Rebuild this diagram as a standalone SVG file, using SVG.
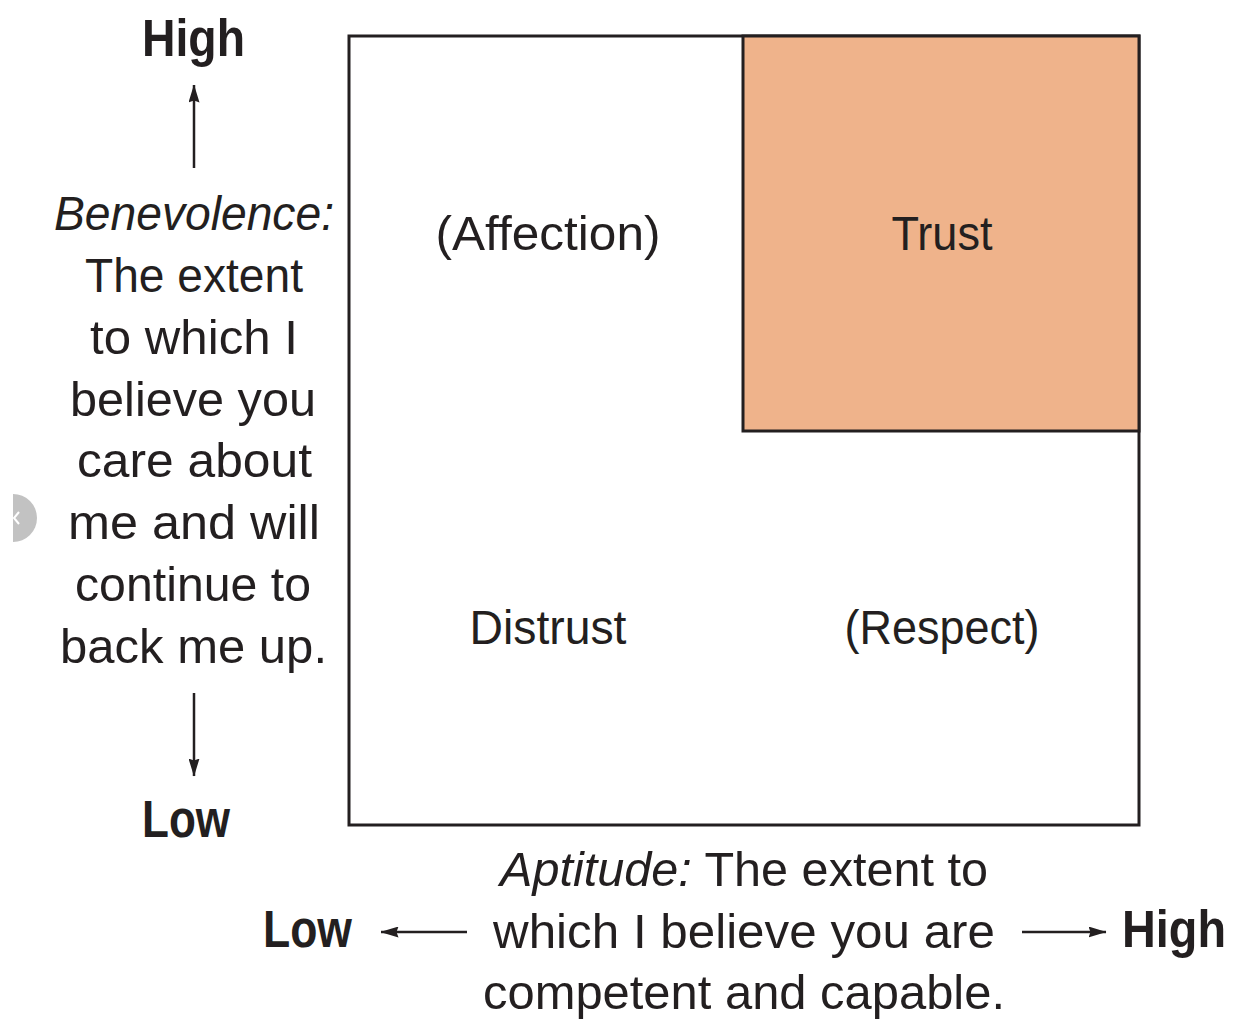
<svg xmlns="http://www.w3.org/2000/svg" width="1234" height="1023" viewBox="0 0 1234 1023">
<style>
text{font-family:"Liberation Sans",Arial,sans-serif;fill:#231f20;}
.t{font-size:49px;}
.b{font-size:51px;font-weight:bold;}
.i{font-style:italic;}
.m{text-anchor:middle;}
.ln{stroke:#231f20;stroke-width:2.5;fill:none;}
</style>
<defs>
<marker id="ah" viewBox="0 0 18 11" refX="17.5" refY="5.5" markerWidth="18" markerHeight="11" markerUnits="userSpaceOnUse" orient="auto">
<path d="M0,0 L18,5.5 L0,11 L2,5.5 Z" fill="#231f20"/>
</marker>
</defs>
<rect width="1234" height="1023" fill="#fff"/>
<g id="badge">
<path d="M13,494 A24,24 0 0 1 13,542 Z" fill="#c2c2c2"/>
<polyline points="19,512 14,518 19,524" fill="none" stroke="#fff" stroke-width="2"/>
</g>
<g id="matrix">
<rect x="349" y="36" width="790" height="789" fill="#fff" stroke="#231f20" stroke-width="3"/>
</g>
<g id="trust">
<rect x="743" y="36" width="396" height="395" fill="#efb38b" stroke="#231f20" stroke-width="3"/>
<text class="t m" x="942" y="250" textLength="101" lengthAdjust="spacingAndGlyphs">Trust</text>
</g>
<g id="affection"><text class="t m" x="548" y="250" textLength="225" lengthAdjust="spacingAndGlyphs">(Affection)</text></g>
<g id="distrust"><text class="t m" x="548" y="644" textLength="157" lengthAdjust="spacingAndGlyphs">Distrust</text></g>
<g id="respect"><text class="t m" x="942" y="644" textLength="195" lengthAdjust="spacingAndGlyphs">(Respect)</text></g>
<g id="y-axis">
<text class="b m" x="193.5" y="56" textLength="103" lengthAdjust="spacingAndGlyphs">High</text>
<text class="t m i" x="194" y="230" textLength="280" lengthAdjust="spacingAndGlyphs">Benevolence:</text>
<text class="t m" x="194" y="292" textLength="218" lengthAdjust="spacingAndGlyphs">The extent</text>
<text class="t m" x="194" y="354" textLength="208" lengthAdjust="spacingAndGlyphs">to which I</text>
<text class="t m" x="193" y="416" textLength="246" lengthAdjust="spacingAndGlyphs">believe you</text>
<text class="t m" x="194.5" y="477" textLength="235" lengthAdjust="spacingAndGlyphs">care about</text>
<text class="t m" x="194" y="539" textLength="252" lengthAdjust="spacingAndGlyphs">me and will</text>
<text class="t m" x="193" y="601" textLength="236" lengthAdjust="spacingAndGlyphs">continue to</text>
<text class="t m" x="193.5" y="663" textLength="267" lengthAdjust="spacingAndGlyphs">back me up.</text>
<text class="b m" x="186" y="837" textLength="88" lengthAdjust="spacingAndGlyphs">Low</text>
</g>
<g id="x-axis">
<text class="t m" x="744" y="886" textLength="488" lengthAdjust="spacingAndGlyphs"><tspan class="i">Aptitude:</tspan> The extent to</text>
<text class="t m" x="744" y="948" textLength="502" lengthAdjust="spacingAndGlyphs">which I believe you are</text>
<text class="t m" x="744" y="1009" textLength="522" lengthAdjust="spacingAndGlyphs">competent and capable.</text>
<text class="b m" x="307.5" y="947" textLength="89" lengthAdjust="spacingAndGlyphs">Low</text>
<text class="b m" x="1174" y="947" textLength="104" lengthAdjust="spacingAndGlyphs">High</text>
</g>
<g id="connectors">
<line class="ln" x1="194" y1="168" x2="194" y2="85" marker-end="url(#ah)"/>
<line class="ln" x1="194" y1="693" x2="194" y2="776" marker-end="url(#ah)"/>
<line class="ln" x1="467" y1="932" x2="381" y2="932" marker-end="url(#ah)"/>
<line class="ln" x1="1022" y1="932" x2="1106" y2="932" marker-end="url(#ah)"/>
</g>
</svg>
